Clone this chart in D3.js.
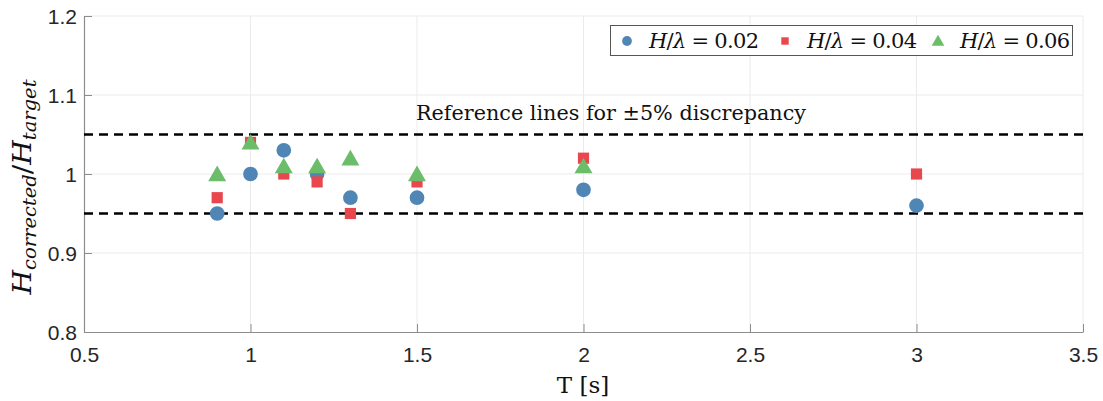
<!DOCTYPE html>
<html>
<head>
<meta charset="utf-8">
<script src="https://cdn.jsdelivr.net/npm/d3@7"></script>
<style>
  html, body { margin: 0; padding: 0; background: #fff; }
  svg { display: block; }
</style>
</head>
<body>
<svg id="chart" width="1103" height="401"></svg>
<script>
// Wave period T [s] and corrected/target wave height ratio for three steepness values
const periods02 = [0.9, 1.0, 1.1, 1.2, 1.3, 1.5, 2.0, 3.0];
const ratio02   = [0.95, 1.00, 1.03, 1.00, 0.97, 0.97, 0.98, 0.96];
const periods04 = [0.9, 1.0, 1.1, 1.2, 1.3, 1.5, 2.0, 3.0];
const ratio04   = [0.97, 1.04, 1.00, 0.99, 0.95, 0.99, 1.02, 1.00];
const periods06 = [0.9, 1.0, 1.1, 1.2, 1.3, 1.5, 2.0];
const ratio06   = [1.00, 1.04, 1.01, 1.01, 1.02, 1.00, 1.01];
const steepness = ["0.02", "0.04", "0.06"];
const xTicks = [0.5, 1, 1.5, 2, 2.5, 3, 3.5];
const yTicks = [0.8, 0.9, 1.0, 1.1, 1.2];
const refLines = [0.95, 1.05];

const SERIF = "'DejaVu Serif', 'Liberation Serif', serif";
const SANS = "'Liberation Sans', Arial, sans-serif";

const svg = d3.select("#chart");
const m = { left: 84, right: 1083, top: 16, bottom: 332 };

const x = d3.scaleLinear().domain([0.5, 3.5]).range([m.left, m.right]);
const y = d3.scaleLinear().domain([0.8, 1.2]).range([m.bottom, m.top]);

// grid
const grid = svg.append("g");
grid.selectAll("line.vx").data(xTicks.slice(1)).join("line")
  .attr("x1", d => x(d)).attr("x2", d => x(d))
  .attr("y1", m.top).attr("y2", m.bottom)
  .attr("stroke", "#ebebeb").attr("stroke-width", 1);
grid.selectAll("line.hy").data(yTicks.slice(1)).join("line")
  .attr("x1", m.left).attr("x2", m.right)
  .attr("y1", d => y(d)).attr("y2", d => y(d))
  .attr("stroke", "#ebebeb").attr("stroke-width", 1);

// axes
const fmt = d => (d === 1 ? "1" : d3.format("")(+d.toFixed(1)));
const xAxis = svg.append("g").attr("transform", `translate(0,${m.bottom})`)
  .call(d3.axisBottom(x).tickValues(xTicks).tickSize(-8).tickSizeOuter(0).tickFormat(fmt));
const yAxis = svg.append("g").attr("transform", `translate(${m.left},0)`)
  .call(d3.axisLeft(y).tickValues(yTicks).tickSize(-8).tickSizeOuter(0).tickFormat(fmt));
[xAxis, yAxis].forEach(a => {
  a.attr("font-family", SANS).attr("font-size", 21);
  a.select(".domain").attr("stroke", "#8c8c8c").attr("stroke-width", 1.2);
  a.selectAll(".tick line").attr("stroke", "#8c8c8c").attr("stroke-width", 1);
  a.selectAll(".tick text").style("font-family", SANS).attr("fill", "#262626");
});
xAxis.selectAll(".tick text").attr("dy", null).attr("y", 30);
yAxis.selectAll(".tick text").attr("x", -7).attr("dy", "0.36em");

// reference lines
svg.append("g").selectAll("line").data(refLines).join("line")
  .attr("x1", m.left).attr("x2", m.right)
  .attr("y1", d => y(d)).attr("y2", d => y(d))
  .attr("stroke", "#000").attr("stroke-width", 2.6)
  .attr("stroke-dasharray", "9,6");

svg.append("text")
  .style("font-family", SERIF)
  .attr("x", 611).attr("y", 120)
  .attr("text-anchor", "middle")
  .attr("font-size", 20).attr("fill", "#111")
  .attr("textLength", 390).attr("lengthAdjust", "spacingAndGlyphs")
  .text("Reference lines for \u00b15% discrepancy");

// markers
const blue = "#4f86b6", red = "#e8474d", green = "#6bbd6a";
const series = [
  { xs: periods02, ys: ratio02, color: blue, shape: d3.symbolCircle, size: 170 },
  { xs: periods04, ys: ratio04, color: red, shape: d3.symbolSquare, size: 125 },
  { xs: periods06, ys: ratio06, color: green, shape: d3.symbolTriangle, size: 140 }
];
series.forEach(s => {
  const pts = s.xs.map((t, i) => [t, s.ys[i]]);
  svg.append("g").selectAll("path").data(pts).join("path")
    .attr("transform", d => `translate(${x(d[0])},${y(d[1]) + (s.shape === d3.symbolTriangle ? 2 : 0)})`)
    .attr("d", d3.symbol().type(s.shape).size(s.size))
    .attr("fill", s.color);
});

// legend
const lg = svg.append("g");
lg.append("rect").attr("x", 610.5).attr("y", 25.5).attr("width", 462).attr("height", 30)
  .attr("fill", "#fff").attr("stroke", "#555").attr("stroke-width", 1);
const legendX = [627, 785, 938];
const legendSym = [
  { shape: d3.symbolCircle, size: 75, color: blue },
  { shape: d3.symbolSquare, size: 55, color: red },
  { shape: d3.symbolTriangle, size: 70, color: green }
];
steepness.forEach((v, i) => {
  lg.append("path")
    .attr("transform", `translate(${legendX[i]},${41 + (i === 2 ? 1 : 0)})`)
    .attr("d", d3.symbol().type(legendSym[i].shape).size(legendSym[i].size))
    .attr("fill", legendSym[i].color);
  const t = lg.append("text")
    .style("font-family", SERIF)
    .attr("x", legendX[i] + 22).attr("y", 48)
    .attr("font-size", 21).attr("fill", "#111")
    .attr("textLength", 110).attr("lengthAdjust", "spacing");
  t.append("tspan").attr("font-style", "italic").text("H");
  t.append("tspan").text("/");
  t.append("tspan").attr("font-style", "italic").text("\u03bb");
  t.append("tspan").text(" = " + v);
});

// axis titles
svg.append("text")
  .style("font-family", SERIF)
  .attr("x", 583).attr("y", 393)
  .attr("text-anchor", "middle")
  .attr("font-size", 23).attr("fill", "#111")
  .text("T [s]");

const yl = svg.append("text")
  .style("font-family", SERIF)
  .attr("transform", "translate(31,187) rotate(-90)")
  .attr("text-anchor", "middle")
  .attr("font-size", 26).attr("fill", "#111")
  .attr("font-style", "italic")
  .attr("textLength", 215).attr("lengthAdjust", "spacingAndGlyphs");
yl.append("tspan").text("H");
yl.append("tspan").attr("font-size", 18).attr("dy", 5).text("corrected");
yl.append("tspan").attr("dy", -5).attr("font-style", "normal").text("/");
yl.append("tspan").text("H");
yl.append("tspan").attr("font-size", 18).attr("dy", 5).text("target");
</script>
</body>
</html>
